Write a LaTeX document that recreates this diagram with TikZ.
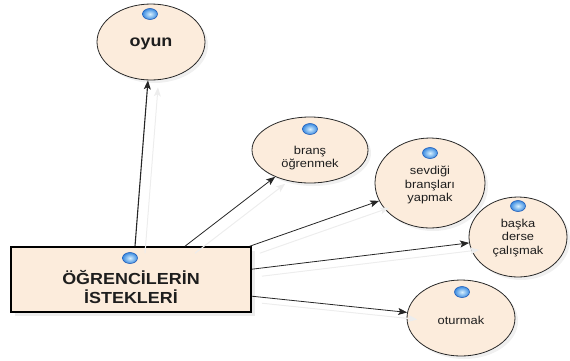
\documentclass[tikz,border=0pt]{standalone}
\usepackage{fontspec}
\setmainfont{Liberation Sans}[FakeStretch=1.12]
\usetikzlibrary{shapes.geometric,shadows,arrows.meta}

\definecolor{peach}{RGB}{252,236,220}
\definecolor{rim}{RGB}{40,40,40}
\definecolor{dotblue}{RGB}{60,140,225}
\definecolor{dotcore}{RGB}{215,240,255}
\definecolor{dotrim}{RGB}{35,95,185}
\definecolor{ink}{RGB}{30,30,30}

\tikzset{
  bubble/.style={ellipse, draw=rim, line width=0.8pt, fill=peach,
    inner sep=0pt,
    drop shadow={opacity=0.12, shadow xshift=3pt, shadow yshift=-3pt}},
  mainbox/.style={rectangle, draw=black, line width=1.6pt, fill=peach,
    inner sep=0pt,
    drop shadow={opacity=0.15, shadow xshift=4pt, shadow yshift=-4pt}},
  knob/.style={ellipse, minimum width=15pt, minimum height=11pt, inner sep=0pt,
    draw=dotrim, line width=0.6pt, shading=radial,
    inner color=dotcore, outer color=dotblue},
  bigtext/.style={font=\fontsize{16}{19}\selectfont\bfseries, text=ink, align=center},
  smalltext/.style={font=\fontsize{11.5}{13.5}\selectfont, text=ink, align=center},
  link/.style={draw=black!85, line width=0.8pt,
    -{Stealth[length=9pt, width=7pt, inset=2pt]}},
  ghost/.style={draw=black!7, line width=1pt,
    -{Stealth[length=9pt, width=7pt, inset=2pt]}},
}

\begin{document}
\begin{tikzpicture}[x=1pt, y=-1pt]
  \useasboundingbox (0,0) rectangle (570,360);

  % main box
  \node[mainbox, minimum width=240pt, minimum height=65pt] (root) at (131,279.5) {};
  \node[knob] (root-k) at (130,258) {};
  \node[bigtext] (root-t) at (131,287) {ÖĞRENCİLERİN\\İSTEKLERİ};

  % bubbles
  \node[bubble, minimum width=108pt, minimum height=76pt] (oyun) at (151,42) {};
  \node[knob] (oyun-k) at (150,14) {};
  \node[bigtext] (oyun-t) at (151,44) {oyun};

  \node[bubble, minimum width=116pt, minimum height=66pt] (brans) at (310,150) {};
  \node[knob] (brans-k) at (310,129) {};
  \node[smalltext] (brans-t) at (310,158) {branş\\öğrenmek};

  \node[bubble, minimum width=110pt, minimum height=90pt] (sevdigi) at (430,183) {};
  \node[knob] (sevdigi-k) at (430,153) {};
  \node[smalltext] (sevdigi-t) at (430,185) {sevdiği\\branşları\\yapmak};

  \node[bubble, minimum width=98pt, minimum height=80pt] (baska) at (518,237) {};
  \node[knob] (baska-k) at (518,206) {};
  \node[smalltext] (baska-t) at (518,238) {başka\\derse\\çalışmak};

  \node[bubble, minimum width=108pt, minimum height=76pt] (oturmak) at (461,318) {};
  \node[knob] (oturmak-k) at (462,292) {};
  \node[smalltext] (oturmak-t) at (461,320) {oturmak};

  % faint echoes of the connectors
  \begin{scope}[transform canvas={shift={(10pt,-7pt)}}]
    \path[ghost] ([xshift=4pt]root.north) -- (oyun);
    \path[ghost] ([xshift=54pt]root.north) -- (brans);
    \path[ghost] ([xshift=-2pt]root.north east) -- (sevdigi);
    \path[ghost] ([yshift=-23pt]root.north east) -- (baska);
    \path[ghost] ([yshift=-50pt]root.north east) -- (oturmak);
  \end{scope}

  % connectors
  \path[link, line width=1.1pt] ([xshift=4pt]root.north) -- (oyun);
  \path[link] ([xshift=54pt]root.north) -- (brans);
  \path[link] ([xshift=-2pt]root.north east) -- (sevdigi);
  \path[link] ([yshift=-23pt]root.north east) -- (baska);
  \path[link] ([yshift=-50pt]root.north east) -- (oturmak);
\end{tikzpicture}
\end{document}
